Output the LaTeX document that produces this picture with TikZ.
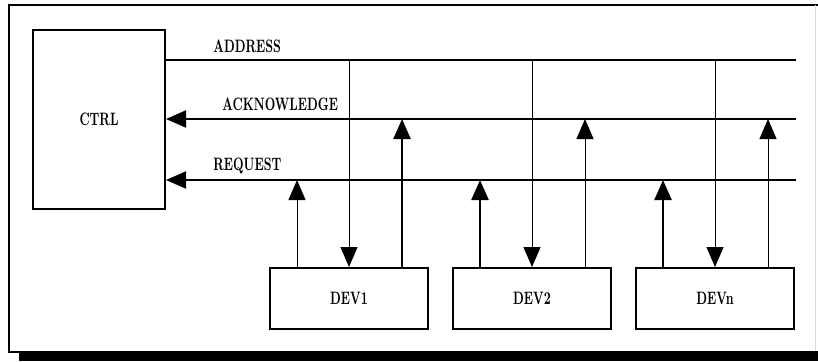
\documentclass[tikz,border=0pt]{standalone}
\usetikzlibrary{arrows.meta,positioning}
\newcommand\cnd[1]{\scalebox{0.66}[1]{\bfseries #1}}
\begin{document}
\begin{tikzpicture}[x=0.5pt,y=-0.5pt,
  font=\fontsize{9}{10}\selectfont,
  box/.style={draw, line width=1pt, inner sep=0pt},
  devbox/.style={box, minimum width=79pt, minimum height=30.5pt},
  buslbl/.style={anchor=base west, inner sep=0pt},
  bus/.style={line width=1pt},
  tip/.style={-{Triangle[length=10pt,width=8.5pt]}},
  thinwire/.style={line width=0.5pt},
  thickwire/.style={line width=1.2pt}]
\useasboundingbox (0,0) rectangle (818,361);
% frame with shadow
\draw[line width=0.8pt] (818,5) -- (9,5) -- (9,352) -- (19,352);
\draw[black!15, line width=0.5pt] (815,5) -- (815,352);
\fill (19,351) rectangle (818,361);

% controller and devices
\node[box, minimum width=66pt, minimum height=89.5pt] (ctrl) at (99,119.5) {\cnd{CTRL}};
\node[devbox] (dev1) at (349,298.5) {\cnd{DEV1}};
\node[devbox, right=11.5pt of dev1] (dev2) {\cnd{DEV2}};
\node[devbox, right=11.5pt of dev2] (devn) {\cnd{DEVn}};

% bus lines
\coordinate (addr) at (796,60);
\coordinate (ack) at (796,119);
\coordinate (req) at (796,180);
\draw[bus] (ctrl.east |- addr) -- (addr);
\draw[bus, tip] (ack) -- (ctrl.east |- ack);
\draw[bus, tip] (req) -- (ctrl.east |- req);
\node[buslbl] (addrlbl) at (213,52) {\cnd{ADDRESS}};
\node[buslbl] (acklbl) at (222,110) {\cnd{ACKNOWLEDGE}};
\node[buslbl] (reqlbl) at (213,170) {\cnd{REQUEST}};

% device wires
\foreach \d/\rw/\aw in {dev1/thinwire/thickwire, dev2/thickwire/thinwire, devn/thickwire/thinwire} {
  \path ([xshift=-26pt]\d.north) coordinate (\d-r)
        ([xshift=26.5pt]\d.north) coordinate (\d-a);
  \draw[thinwire, tip] (\d.north |- addr) -- (\d.north);
  \draw[\rw, tip] (\d-r) -- (\d-r |- req);
  \draw[\aw, tip] (\d-a) -- (\d-a |- ack);
}
\end{tikzpicture}
\end{document}
